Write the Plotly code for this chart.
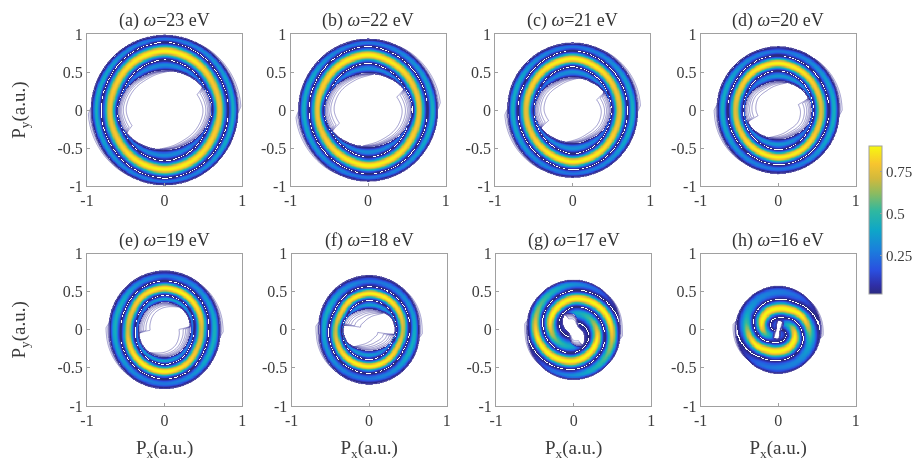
import numpy as np
import plotly.graph_objects as go

panel_labels = ["(a)", "(b)", "(c)", "(d)", "(e)", "(f)", "(g)", "(h)"]
omega_eV = [23, 22, 21, 20, 19, 18, 17, 16]
# radial readings at polar angle 0,30,60,90,120,150 degrees (two-fold symmetric pattern)
angles_deg = [0, 30, 60, 90, 120, 150]
ridge_radius = [
    [.70, .71, .75, .78, .75, .71],
    [.65, .66, .69, .73, .70, .66],
    [.60, .61, .64, .68, .65, .61],
    [.55, .56, .59, .62, .60, .56],
    [.47, .50, .53, .55, .53, .48],
    [.43, .45, .47, .48, .46, .42],
    [.50, .46, .43, .41, .37, .33],
    [.42, .36, .30, .28, .27, .24],
]
outer_radius = [
    [.94, .95, .97, .98, .97, .95],
    [.89, .90, .92, .93, .92, .90],
    [.83, .85, .87, .88, .87, .85],
    [.78, .80, .82, .83, .82, .80],
    [.71, .73, .76, .77, .76, .73],
    [.64, .67, .70, .71, .70, .67],
    [.59, .62, .64, .65, .64, .62],
    [.545, .55, .56, .57, .56, .55],
]
inner_radius = [
    [.60, .58, .54, .52, .52, .56],
    [.56, .54, .50, .48, .49, .53],
    [.49, .47, .44, .43, .43, .47],
    [.43, .42, .39, .38, .38, .42],
    [.33, .35, .36, .36, .35, .33],
    [.34, .33, .28, .27, .28, .32],
    [.10, .07, .10, .20, .24, .17],
    [.03, .05, .12, .13, .04, .03],
]
ridge_amp = [
    [.78, .80, .88, .90, .88, .82],
    [.78, .80, .88, .90, .88, .82],
    [.76, .80, .88, .90, .88, .82],
    [.74, .80, .88, .90, .88, .80],
    [.72, .85, .90, .90, .85, .78],
    [.70, .82, .90, .90, .88, .80],
    [.90, .90, .90, .90, .90, .90],
    [.90, .90, .90, .90, .90, .90],
]
outer_amp = [
    [.45, .38, .30, .25, .30, .42],
    [.45, .38, .30, .25, .30, .42],
    [.45, .38, .30, .25, .30, .42],
    [.45, .38, .30, .25, .30, .42],
    [.45, .38, .30, .25, .32, .45],
    [.42, .35, .28, .25, .32, .45],
    [.25, .25, .25, .25, .32, .45],
    [.10, .12, .20, .25, .32, .45],
]
inner_amp = [
    [.15, .22, .30, .32, .30, .20],
    [.15, .22, .30, .32, .30, .20],
    [.18, .25, .32, .34, .30, .22],
    [.20, .28, .34, .36, .30, .22],
    [.25, .30, .38, .40, .32, .25],
    [.30, .30, .35, .38, .30, .28],
    [.45, .30, .25, .25, .25, .35],
    [.50, .30, .20, .15, .12, .20],
]
dark_gap = [.115, .11, .105, .10, .095, .09, .085, .08]
# spiral panels only (g, h): band period, envelope centre and envelope width; None = closed bands
spiral_period = [None, None, None, None, None, None, .22, .24]
envelope_centre = [None, None, None, None, None, None, .40, .29]
envelope_width = [None, None, None, None, None, None, .17, .15]

# faint contour crescents: angle of the sharp tip, angular span, depth reached
inner_tip_deg = [32, 31, 30, 22, 8, 170, 120, 60]
inner_span_deg = [130, 130, 130, 130, 130, 120, 70, 50]
inner_depth = [.12, .14, .14, .16, .15, .22, .08, .04]
outer_tip_deg = [177, 0, 178, 174, 172, 170, 167, 167]
outer_span_deg = [65, 65, 65, 62, 60, 60, 58, 55]
outer_reach = [.045, .045, .045, .045, .045, .045, .04, .04]

axis_left = [81, 287, 494, 702, 81, 288, 495, 702]
axis_top = [27, 27, 27, 27, 255, 255, 255, 255]
AW, AH = 157, 158
W, H = 918, 466
SERIF = "Liberation Serif"
TXT = "#3c3c3c"
AXC = "#a0a0a0"

parula = [[0, "#2b2a80"], [0.06, "#2f2fa8"], [0.16, "#2a4fe0"], [0.3, "#1a80dc"], [0.43, "#0ea6c8"],
          [0.56, "#2fb8a0"], [0.68, "#8cbb60"], [0.78, "#d2b93c"], [0.88, "#f8c52e"], [1, "#f6f90f"]]

n = 281
xs = np.linspace(-1, 1, n)
X, Y = np.meshgrid(xs, xs)
R_ = np.hypot(X, Y)
PHI = np.degrees(np.arctan2(Y, X)) % 180


def table(vals, end=None, k=15):
    a = np.asarray(angles_deg + [180], float)
    v = np.asarray(list(vals) + [vals[0] if end is None else end], float)
    fine = np.arange(0, 180, 1.0)
    f = np.interp(fine, a, v)
    jump = (v[-1] - v[0])
    f = f - jump * fine / 180
    f = np.convolve(np.r_[f[-k:], f, f[:k]], np.ones(k) / k, mode="same")[k:-k]
    f = f + jump * fine / 180
    return np.interp(PHI, np.r_[fine, 180], np.r_[f, f[0] + jump])


def crescent(u, span):
    """0 at the tip, quickly up to 1, then tapering away over the span."""
    return np.clip(u / 6, 0, 1) * np.clip(1 - u / span, 0, 1) ** 0.6


def field(i):
    ro = table(outer_radius[i])
    ri = table(inner_radius[i])
    if spiral_period[i]:
        P = spiral_period[i]
        rm = table(ridge_radius[i], end=ridge_radius[i][0] - P, k=9)
        s = (R_ - rm) / P
        env = 0.9 * np.exp(-((R_ - envelope_centre[i]) / envelope_width[i]) ** 2) + 0.16
        edge = np.sqrt(np.clip((ro - R_) / 0.05, 0, 1)) * np.sqrt(np.clip((R_ - ri) / 0.03, 0, 1))
        z = np.minimum(env, 0.9) * np.abs(np.cos(np.pi * s)) ** 1.6 * edge
    else:
        rm = table(ridge_radius[i])
        g = dark_gap[i]
        dout = np.minimum(rm + g, ro - 0.02)
        din = np.maximum(rm - g, ri + 0.015)
        s = np.where(R_ >= rm, np.where(R_ < dout, 0.5 * (R_ - rm) / (dout - rm), 0.5 + (R_ - dout) / (ro - dout)),
                     np.where(R_ > din, -0.5 * (rm - R_) / (rm - din), -0.5 - (din - R_) / (din - ri)))
        amp = np.where(s > 0.5, table(outer_amp[i]), np.where(s < -0.5, table(inner_amp[i]), table(ridge_amp[i])))
        z = amp * np.abs(np.cos(np.pi * s)) ** 1.6
    band = (R_ <= ro) & (R_ >= ri)
    # outer crescents run counter-clockwise from their tip, inner ones clockwise
    uo = (PHI - outer_tip_deg[i]) % 180
    wo = outer_reach[i] / np.log(4) * crescent(uo, outer_span_deg[i]) + 1e-4
    tail_out = 0.012 * np.exp(-(R_ - ro) / wo) * (crescent(uo, outer_span_deg[i]) > 0)
    ui = (inner_tip_deg[i] - PHI) % 180
    wi = inner_depth[i] / 1.9 * crescent(ui, inner_span_deg[i]) + 1e-4
    tail_in = 0.02 * np.exp(-(ri - R_) / wi) * (crescent(ui, inner_span_deg[i]) > 0)
    lines = np.where(R_ > ro, tail_out, np.where(R_ < ri, tail_in, 0.03))
    return np.where(band & (z >= 0.006), np.maximum(z, 0.02), np.nan), lines


fig = go.Figure()
layout = {}
for i in range(8):
    sfx = "" if i == 0 else str(i + 1)
    heat, lines = field(i)
    fig.add_trace(go.Heatmap(x=xs, y=xs, z=heat.astype("float32"), coloraxis="coloraxis", hoverinfo="skip",
                             xaxis="x" + sfx, yaxis="y" + sfx, zsmooth=False))
    fig.add_trace(go.Contour(x=xs, y=xs, z=lines.astype("float32"), showscale=False, hoverinfo="skip",
                             autocontour=False, contours=dict(start=0.003, end=0.021, size=0.003, coloring="none"),
                             line=dict(color="rgba(70,65,160,0.75)", width=0.7, smoothing=0.6),
                             xaxis="x" + sfx, yaxis="y" + sfx))
    l, t = axis_left[i], axis_top[i]
    common = dict(range=[-1, 1], showgrid=False, zeroline=False, showline=True, mirror=True, linecolor=AXC,
                  linewidth=1, ticks="inside", ticklen=3, tickcolor=AXC,
                  tickfont=dict(family=SERIF, size=16, color=TXT))
    xa = dict(common, domain=[l / W, (l + AW) / W], anchor="y" + sfx, tickmode="array",
              tickvals=[-1, 0, 1], ticktext=["-1", "0", "1"])
    ya = dict(common, domain=[1 - (t + AH) / H, 1 - t / H], anchor="x" + sfx, tickmode="array",
              tickvals=[-1, -0.5, 0, 0.5, 1], ticktext=["-1", "-0.5", "0", "0.5", "1"])
    if i >= 4:
        xa["title"] = dict(text="P<sub>x</sub>(a.u.)", standoff=12, font=dict(family=SERIF, size=19, color=TXT))
    if i in (0, 4):
        ya["title"] = dict(text="P<sub>y</sub>(a.u.)", standoff=26, font=dict(family=SERIF, size=19, color=TXT))
    layout["xaxis" + sfx] = xa
    layout["yaxis" + sfx] = ya

annotations = [dict(x=(axis_left[i] + AW / 2) / W, y=1 - (axis_top[i] - 14) / H, xref="paper", yref="paper",
                    showarrow=False, yanchor="middle", xanchor="center",
                    text=f"{panel_labels[i]} <i>ω</i>={omega_eV[i]} eV",
                    font=dict(family=SERIF, size=18, color="#333333")) for i in range(8)]

fig.update_layout(
    width=W, height=H, autosize=False, margin=dict(l=0, r=0, t=0, b=0),
    paper_bgcolor="white", plot_bgcolor="white", showlegend=False, annotations=annotations,
    coloraxis=dict(cmin=0.02, cmax=0.905, colorscale=parula, colorbar=dict(
        thickness=13, thicknessmode="pixels", len=154 / H, lenmode="fraction", x=872 / W, xanchor="left",
        y=1 - 220 / H, yanchor="middle", xpad=0, ypad=0, outlinecolor=AXC, outlinewidth=1,
        tickmode="array", tickvals=[0.25, 0.5, 0.75], ticktext=["0.25", "0.5", "0.75"], ticks="inside", ticklen=2,
        tickcolor=AXC, tickfont=dict(family=SERIF, size=15, color=TXT))),
    **layout)

fig.write_html("out.html", config={"displayModeBar": False},
               post_script="document.body.style.margin='0';document.querySelector('.plotly-graph-div').style.filter='blur(0.45px)';")
